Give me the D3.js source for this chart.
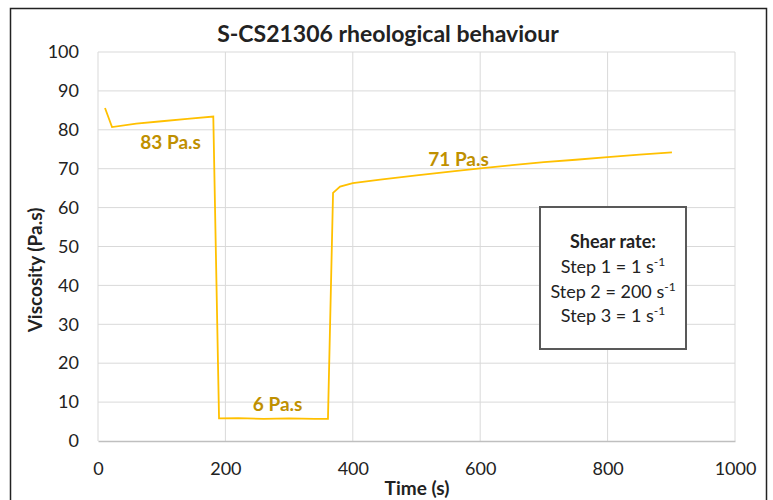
<!DOCTYPE html>
<html>
<head>
<meta charset="utf-8">
<script src="https://cdn.jsdelivr.net/npm/d3@7"></script>
<style>
  body { margin: 0; background: #fff; }
  svg text { font-family: Lato, "Open Sans", sans-serif; }
</style>
</head>
<body>
<div class="chart-wrapper"></div>
<script>
// values
var time = [11, 22, 60, 100, 140, 181, 190, 220, 260, 300, 340, 361, 369, 380, 400, 443, 500, 560, 600, 650, 700, 750, 800, 850, 901];
var viscosity = [85.6, 80.7, 81.6, 82.2, 82.8, 83.4, 5.8, 5.9, 5.7, 5.8, 5.7, 5.7, 63.8, 65.4, 66.3, 67.2, 68.3, 69.4, 70.1, 70.9, 71.7, 72.3, 73.0, 73.6, 74.2];
var xTicks = [0, 200, 400, 600, 800, 1000];
var yTicks = [0, 10, 20, 30, 40, 50, 60, 70, 80, 90, 100];
var labels = [
    {t: 114, v: 76.3, text: "83 Pa.s"},
    {t: 282, v: 8.9, text: "6 Pa.s"},
    {t: 566, v: 72.0, text: "71 Pa.s"}
];
var boxLines = [
    {text: "Step 1 = 1 s", sup: "-1"},
    {text: "Step 2 = 200 s", sup: "-1"},
    {text: "Step 3 = 1 s", sup: "-1"}
];

var data = time.map(function (t, i) {
    return {t: t, v: viscosity[i]};
});

var config = {
    width: 773,
    height: 500,
    margin: {top: 52, right: 38, bottom: 59, left: 98}
};
var margin = config.margin;
var width = config.width - margin.left - margin.right;
var height = config.height - margin.top - margin.bottom;

var svg = d3.select(".chart-wrapper").append("svg")
    .attr("width", config.width)
    .attr("height", config.height);

// outer frame
svg.append("rect")
    .attr("x", 10.5).attr("y", 8.5)
    .attr("width", 756).attr("height", 500)
    .attr("fill", "none")
    .attr("stroke", "#222")
    .attr("stroke-width", 1.5);

var g = svg.append("g")
    .attr("transform", "translate(" + margin.left + "," + margin.top + ")");

var x = d3.scaleLinear().domain([0, 1000]).range([0, width]);
var y = d3.scaleLinear().domain([0, 100]).range([height, 0]);

// grid
g.selectAll(".hgrid")
    .data(yTicks.slice(1))
    .enter().append("line")
    .attr("class", "hgrid")
    .attr("x1", 0).attr("x2", width)
    .attr("y1", function (d) { return y(d); })
    .attr("y2", function (d) { return y(d); })
    .attr("stroke", "#d9d9d9");

g.selectAll(".vgrid")
    .data(xTicks)
    .enter().append("line")
    .attr("class", "vgrid")
    .attr("x1", function (d) { return x(d); })
    .attr("x2", function (d) { return x(d); })
    .attr("y1", 0).attr("y2", height)
    .attr("stroke", "#d9d9d9");

// axes
var xAxis = d3.axisBottom(x).tickValues(xTicks).tickFormat(d3.format("d")).tickSize(0).tickPadding(21);
var yAxis = d3.axisLeft(y).tickValues(yTicks).tickSize(0).tickPadding(19);

var gx = g.append("g")
    .attr("transform", "translate(0," + height + ")")
    .call(xAxis);
gx.select(".domain").attr("stroke", "#bfbfbf").attr("stroke-width", 1.5);
gx.selectAll("text").style("font-size", "18px").attr("fill", "#222");

var gy = g.append("g").call(yAxis);
gy.select(".domain").remove();
gy.selectAll("text").style("font-size", "18px").attr("fill", "#222");

// line
var line = d3.line()
    .x(function (d) { return x(d.t); })
    .y(function (d) { return y(d.v); });

g.append("path")
    .datum(data)
    .attr("fill", "none")
    .attr("stroke", "#ffc000")
    .attr("stroke-width", 1.8)
    .attr("d", line);

// value labels
g.selectAll(".vlabel")
    .data(labels)
    .enter().append("text")
    .attr("class", "vlabel")
    .attr("x", function (d) { return x(d.t); })
    .attr("y", function (d) { return y(d.v); })
    .attr("text-anchor", "middle")
    .attr("dominant-baseline", "middle")
    .style("font-size", "19px")
    .style("font-weight", "bold")
    .attr("fill", "#bf9000")
    .text(function (d) { return d.text; });

// title
svg.append("text")
    .attr("x", 388).attr("y", 42)
    .attr("text-anchor", "middle")
    .style("font-size", "23px")
    .style("font-weight", "bold")
    .attr("fill", "#222")
    .text("S-CS21306 rheological behaviour");

svg.append("text")
    .attr("x", 417).attr("y", 495)
    .attr("text-anchor", "middle")
    .style("font-size", "19px")
    .style("font-weight", "bold")
    .attr("fill", "#222")
    .text("Time (s)");

svg.append("text")
    .attr("transform", "translate(42,270) rotate(-90)")
    .attr("text-anchor", "middle")
    .style("font-size", "19px")
    .style("font-weight", "bold")
    .attr("fill", "#222")
    .text("Viscosity (Pa.s)");

// shear rate box
var box = svg.append("g").attr("transform", "translate(540,207)");
box.append("rect")
    .attr("width", 146).attr("height", 142)
    .attr("fill", "#fff")
    .attr("stroke", "#595959")
    .attr("stroke-width", 2);
box.append("text")
    .attr("x", 73).attr("y", 41)
    .attr("text-anchor", "middle")
    .style("font-size", "18px")
    .style("font-weight", "bold")
    .attr("fill", "#222")
    .text("Shear rate:");
var bl = box.selectAll(".bline")
    .data(boxLines)
    .enter().append("text")
    .attr("class", "bline")
    .attr("x", 73)
    .attr("y", function (d, i) { return 66 + i * 24.5; })
    .attr("text-anchor", "middle")
    .style("font-size", "18px")
    .attr("fill", "#222");
bl.append("tspan").text(function (d) { return d.text; });
bl.append("tspan")
    .attr("dy", -7)
    .style("font-size", "12px")
    .text(function (d) { return d.sup; });
</script>
</body>
</html>
